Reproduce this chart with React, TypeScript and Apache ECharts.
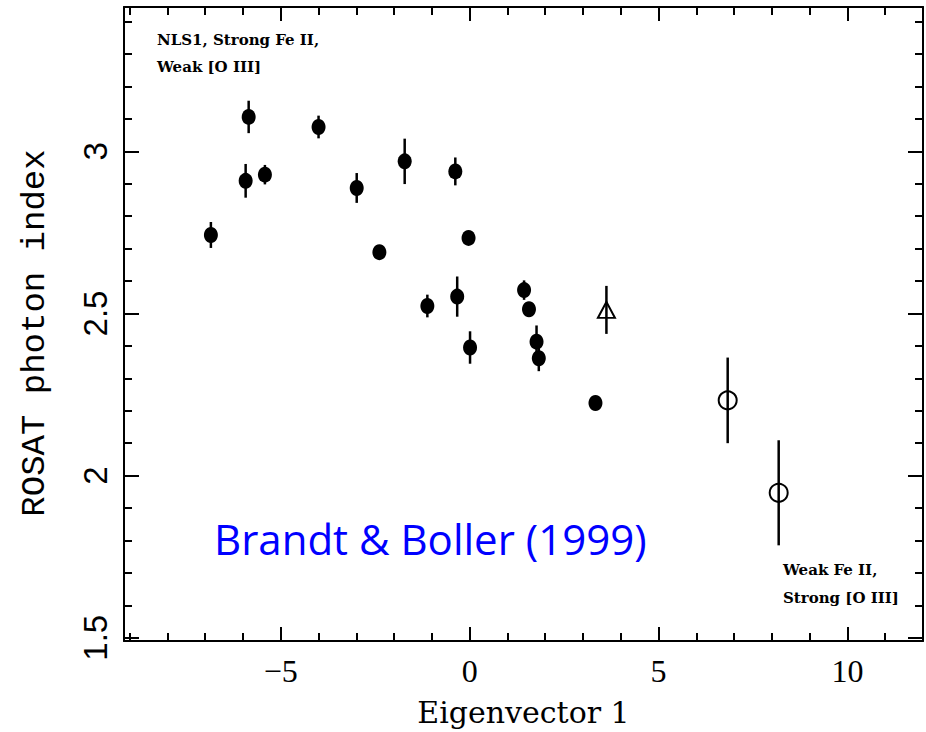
import React, { useEffect, useRef } from 'react';
import * as echarts from 'echarts';

// ---- data ----
const xMajorTicks = [-5, 0, 5, 10];
const xMinorTicks = [-9, -8, -7, -6, -4, -3, -2, -1, 1, 2, 3, 4, 6, 7, 8, 9, 11];
const yMajorTicks = [1.5, 2, 2.5, 3];
const yMinorTicks = [1.6, 1.7, 1.8, 1.9, 2.1, 2.2, 2.3, 2.4, 2.6, 2.7, 2.8, 2.9, 3.1, 3.2, 3.3, 3.4];

// filled circles (NLS1 sample)
const nlsEV1 = [-6.85, -5.85, -5.93, -5.42, -4.0, -2.99, -1.72, -0.38, -2.39, -0.03, -1.12, -0.33, 0.01, 1.44, 1.57, 1.77, 1.83, 3.33];
const nlsGamma = [2.742, 3.106, 2.909, 2.928, 3.075, 2.887, 2.969, 2.938, 2.689, 2.733, 2.523, 2.552, 2.395, 2.572, 2.513, 2.413, 2.362, 2.224];
const nlsErr = [0.04, 0.05, 0.052, 0.03, 0.035, 0.046, 0.07, 0.043, 0.02, 0.015, 0.035, 0.062, 0.05, 0.03, 0.015, 0.05, 0.04, 0];

// open triangle
const triEV1 = [3.62];
const triGamma = [2.511];
const triErr = [0.074];

// open circles
const openEV1 = [6.83, 8.18];
const openGamma = [2.232, 1.947];
const openErr = [0.132, 0.162];

const X_MIN = -9.15;
const X_MAX = 12;
const Y_MIN = 1.49;
const Y_MAX = 3.445;

const fmtX = (v: number) => (v < 0 ? '\u2212' + Math.abs(v) : String(v));

function buildErrors(xs: number[], ys: number[], es: number[]) {
  const out: number[][] = [];
  xs.forEach((x, i) => {
    if (es[i] > 0) out.push([x, ys[i] - es[i], ys[i] + es[i]]);
  });
  return out;
}

export default function App() {
  const ref = useRef<HTMLDivElement>(null);

  useEffect(() => {
    document.body.style.margin = '0';
    const chart = echarts.init(ref.current!, null, { renderer: 'svg' });

    const lineStyle = { color: '#000', width: 2 };

    const xAxis = (position: string, ticks: number[], len: number, showLine: boolean, showLabels: boolean, name?: string) => ({
      type: 'value',
      position,
      min: X_MIN,
      max: X_MAX,
      name: name,
      nameLocation: 'middle',
      nameGap: 56,
      nameTextStyle: { fontFamily: 'DejaVu Serif', fontSize: 30, color: '#000' },
      axisLine: { show: showLine, onZero: false, lineStyle },
      axisTick: { show: true, inside: true, length: len, customValues: ticks, lineStyle: { color: '#000', width: 2 } },
      axisLabel: {
        show: showLabels,
        customValues: ticks,
        formatter: fmtX,
        fontFamily: 'Liberation Serif',
        fontSize: 32,
        color: '#000',
        margin: 14,
      },
      splitLine: { show: false },
    });

    const yAxis = (position: string, ticks: number[], len: number, showLine: boolean, showLabels: boolean, name?: string) => ({
      type: 'value',
      position,
      min: Y_MIN,
      max: Y_MAX,
      name: name,
      nameLocation: 'middle',
      nameRotate: 90,
      nameGap: 72,
      nameTextStyle: { fontFamily: 'Liberation Mono', fontSize: 34, color: '#000', padding: [0, 18, 0, 0] },
      axisLine: { show: showLine, onZero: false, lineStyle },
      axisTick: { show: true, inside: true, length: len, customValues: ticks, lineStyle: { color: '#000', width: 2 } },
      axisLabel: {
        show: showLabels,
        customValues: ticks,
        rotate: 90,
        fontFamily: 'Liberation Sans',
        fontSize: 33,
        color: '#000',
        margin: 12,
      },
      splitLine: { show: false },
    });

    const errData = [
      ...buildErrors(nlsEV1, nlsGamma, nlsErr),
      ...buildErrors(triEV1, triGamma, triErr),
      ...buildErrors(openEV1, openGamma, openErr),
    ];

    const option: any = {
      animation: false,
      backgroundColor: '#fff',
      grid: { left: 124, top: 7, width: 799, height: 634, containLabel: false },
      xAxis: [
        xAxis('bottom', xMajorTicks, 14, true, true, 'Eigenvector 1'),
        xAxis('bottom', xMinorTicks, 8, false, false),
        xAxis('top', xMajorTicks, 14, true, false),
        xAxis('top', xMinorTicks, 8, false, false),
      ],
      yAxis: [
        yAxis('left', yMajorTicks, 15, true, true, 'ROSAT photon index'),
        yAxis('left', yMinorTicks, 8, false, false),
        yAxis('right', yMajorTicks, 15, true, false),
        yAxis('right', yMinorTicks, 8, false, false),
      ],
      series: [
        {
          type: 'custom',
          data: errData,
          encode: { x: 0, y: [1, 2] },
          silent: true,
          z: 3,
          renderItem: (_params: any, api: any) => {
            const p1 = api.coord([api.value(0), api.value(1)]);
            const p2 = api.coord([api.value(0), api.value(2)]);
            return {
              type: 'line',
              shape: { x1: p1[0], y1: p1[1], x2: p2[0], y2: p2[1] },
              style: { stroke: '#000', lineWidth: 2.5 },
            };
          },
        },
        {
          type: 'scatter',
          data: nlsEV1.map((x, i) => [x, nlsGamma[i]]),
          symbol: 'circle',
          symbolSize: [14, 16],
          itemStyle: { color: '#000', opacity: 1 },
          z: 4,
        },
        {
          type: 'scatter',
          data: triEV1.map((x, i) => [x, triGamma[i]]),
          symbol: 'triangle',
          symbolSize: [17, 16],
          itemStyle: { color: 'rgba(0,0,0,0)', borderColor: '#000', borderWidth: 2, opacity: 1 },
          z: 4,
        },
        {
          type: 'scatter',
          data: openEV1.map((x, i) => [x, openGamma[i]]),
          symbol: 'circle',
          symbolSize: 18,
          itemStyle: { color: 'rgba(0,0,0,0)', borderColor: '#000', borderWidth: 2, opacity: 1 },
          z: 4,
        },
      ],
      graphic: [
        {
          type: 'text',
          x: 157,
          y: 26,
          style: {
            text: 'NLS1, Strong Fe II,\nWeak [O III]',
            font: 'bold 15px "DejaVu Serif"',
            fill: '#000',
            lineHeight: 27,
            verticalAlign: 'top',
          },
        },
        {
          type: 'text',
          x: 783,
          y: 556,
          style: {
            text: 'Weak Fe II,\nStrong [O III]',
            font: 'bold 15px "DejaVu Serif"',
            fill: '#000',
            lineHeight: 28,
            verticalAlign: 'top',
          },
        },
        {
          type: 'text',
          x: 214,
          y: 538,
          style: {
            text: 'Brandt & Boller (1999)',
            font: '42px "Open Sans"',
            fill: '#0000ff',
            verticalAlign: 'middle',
          },
        },
      ],
    };

    chart.setOption(option);
    return () => chart.dispose();
  }, []);

  return <div ref={ref} style={{ width: 926, height: 732 }} />;
}
